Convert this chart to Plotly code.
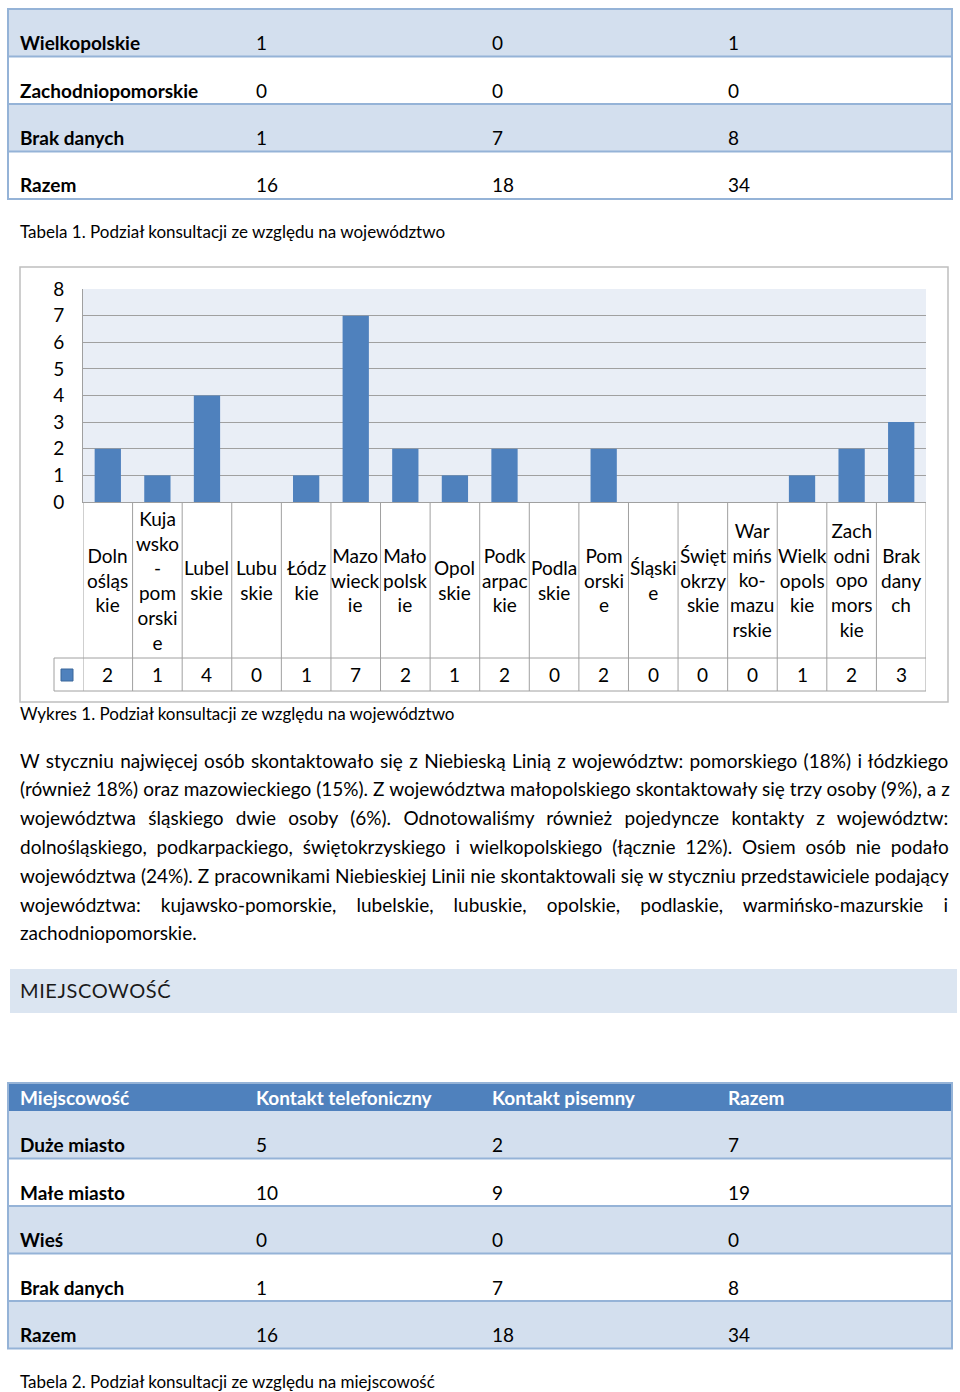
import plotly.graph_objects as go

# ---------------- data ----------------
t1_rows = ["Wielkopolskie", "Zachodniopomorskie", "Brak danych", "Razem"]
t1_tel = [1, 0, 1, 16]
t1_pis = [0, 0, 7, 18]
t1_raz = [1, 0, 8, 34]

regions = ["Doln<br>ośląs<br>kie", "Kuja<br>wsko<br>-<br>pom<br>orski<br>e", "Lubel<br>skie", "Lubu<br>skie",
           "Łódz<br>kie", "Mazo<br>wieck<br>ie", "Mało<br>polsk<br>ie", "Opol<br>skie", "Podk<br>arpac<br>kie",
           "Podla<br>skie", "Pom<br>orski<br>e", "Śląski<br>e", "Święt<br>okrzy<br>skie",
           "War<br>mińs<br>ko-<br>mazu<br>rskie", "Wielk<br>opols<br>kie", "Zach<br>odni<br>opo<br>mors<br>kie",
           "Brak<br>dany<br>ch"]
counts = [2, 1, 4, 0, 1, 7, 2, 1, 2, 0, 2, 0, 0, 0, 1, 2, 3]
y_ticks = [0, 1, 2, 3, 4, 5, 6, 7, 8]

t2_header = ["Miejscowość", "Kontakt telefoniczny", "Kontakt pisemny", "Razem"]
t2_rows = ["Duże miasto", "Małe miasto", "Wieś", "Brak danych", "Razem"]
t2_tel = [5, 10, 0, 1, 16]
t2_pis = [2, 9, 0, 7, 18]
t2_raz = [7, 19, 0, 8, 34]

caption1 = "Tabela 1. Podział konsultacji ze względu na województwo"
caption_chart = "Wykres 1. Podział konsultacji ze względu na województwo"
caption2 = "Tabela 2. Podział konsultacji ze względu na miejscowość"
heading = "MIEJSCOWOŚĆ"
paragraph = [
    "W styczniu najwięcej osób skontaktowało się z Niebieską Linią z województw: pomorskiego (18%) i łódzkiego",
    "(również 18%) oraz mazowieckiego (15%). Z województwa małopolskiego skontaktowały się trzy osoby (9%), a z",
    "województwa śląskiego dwie osoby (6%). Odnotowaliśmy również pojedyncze kontakty z województw:",
    "dolnośląskiego, podkarpackiego, świętokrzyskiego i wielkopolskiego (łącznie 12%). Osiem osób nie podało",
    "województwa (24%). Z pracownikami Niebieskiej Linii nie skontaktowali się w styczniu przedstawiciele podający",
    "województwa: kujawsko-pomorskie, lubelskie, lubuskie, opolskie, podlaskie, warmińsko-mazurskie i",
    "zachodniopomorskie.",
]
# extra word spacing (px) per line to imitate the justified paragraph
word_spacing = [1.5, 0.15, 7.5, 5.0, 0.15, 15.2, 0]

# ---------------- layout helpers ----------------
W, H = 960, 1392
FONT = "Lato"
BLUE = "#4F81BD"
LIGHT = "#D3DFEE"
BORDER = "#95B3D7"
TS = 19  # body text size


def X(p):
    return p / W


def Y(p):
    return 1 - p / H


shapes = []
annotations = []


def rect(x0, y0, x1, y1, fill=None, line=None, lw=1):
    shapes.append(dict(type="rect", xref="paper", yref="paper", x0=X(x0), x1=X(x1), y0=Y(y0), y1=Y(y1),
                       fillcolor=fill if fill else "rgba(0,0,0,0)",
                       line=dict(color=line if line else "rgba(0,0,0,0)", width=lw if line else 0),
                       layer="below"))


def hline(x0, x1, y, color, lw=1, layer="above"):
    shapes.append(dict(type="line", xref="paper", yref="paper", x0=X(x0), x1=X(x1), y0=Y(y), y1=Y(y),
                       line=dict(color=color, width=lw), layer=layer))


def vline(x, y0, y1, color, lw=1, layer="above"):
    shapes.append(dict(type="line", xref="paper", yref="paper", x0=X(x), x1=X(x), y0=Y(y0), y1=Y(y1),
                       line=dict(color=color, width=lw), layer=layer))


def text(x, y, s, size=TS, color="#000000", xanchor="left", weight=None):
    f = dict(family=FONT, size=size, color=color)
    if weight:
        f["weight"] = weight
    annotations.append(dict(xref="paper", yref="paper", x=X(x), y=Y(y), text=s, showarrow=False,
                            xanchor=xanchor, yanchor="middle", font=f, borderpad=0, borderwidth=0))


def table(top, row_h, labels, cols, header=None, header_h=28, left=8, right=952, col_w=236, pad=12):
    y = top
    if header:
        rect(left, y, right, y + header_h, fill=BLUE)
        for j, h in enumerate(header):
            text(left + pad + j * col_w, y + header_h / 2, "<b>" + h + "</b>", color="#FFFFFF")
        y += header_h
    for i, lab in enumerate(labels):
        fill = LIGHT if i % 2 == 0 else "#FFFFFF"
        rect(left, y, right, y + row_h, fill=fill)
        ty = y + row_h - 14
        text(left + pad, ty, "<b>" + lab + "</b>")
        for j, col in enumerate(cols):
            text(left + pad + (j + 1) * col_w, ty, str(col[i]))
        y += row_h
        if i < len(labels) - 1:
            hline(left, right, y, BORDER, 2)
    shapes.append(dict(type="rect", xref="paper", yref="paper", x0=X(left), x1=X(right), y0=Y(top), y1=Y(y),
                       line=dict(color=BORDER, width=2), fillcolor="rgba(0,0,0,0)", layer="above"))
    return y


# ---------------- table 1 ----------------
table(9, 47.5, t1_rows, [t1_tel, t1_pis, t1_raz])
text(20, 232, caption1, size=17)

# ---------------- chart ----------------
fig = go.Figure()
fig.add_bar(x=regions, y=counts, marker=dict(color=BLUE, line=dict(width=0)), hoverinfo="y")

# chart frame
rect(20, 267, 948, 702, line="#BFBFBF", lw=1.5)

plot_l, plot_r, plot_t, plot_b = 83, 926, 289, 502
lab_b, val_b, key_l = 658, 691, 54
GRID = "#A0A0A0"
# data table under the chart
hline(key_l, plot_r, lab_b, GRID)
hline(key_l, plot_r, val_b, GRID)
vline(key_l, lab_b, val_b, GRID)
for i in range(len(regions) + 1):
    shapes.append(dict(type="line", xref="x", yref="paper", x0=i - 0.5, x1=i - 0.5, y0=Y(plot_b), y1=Y(val_b),
                       line=dict(color=GRID, width=1)))
shapes.append(dict(type="rect", xref="paper", yref="paper", x0=X(61), x1=X(73), y0=Y(681), y1=Y(669),
                   fillcolor=BLUE, line=dict(color="#3B679A", width=1)))
for r, v in zip(regions, counts):
    annotations.append(dict(xref="x", yref="paper", x=r, y=Y((plot_b + lab_b) / 2), text=r, showarrow=False,
                            xanchor="center", yanchor="middle", align="center",
                            font=dict(family=FONT, size=19, color="#000000")))
    annotations.append(dict(xref="x", yref="paper", x=r, y=Y((lab_b + val_b) / 2), text=str(v), showarrow=False,
                            xanchor="center", yanchor="middle", font=dict(family=FONT, size=19, color="#000000")))
text(20, 713, caption_chart, size=17)

# ---------------- paragraph ----------------
for k, (line, ws) in enumerate(zip(paragraph, word_spacing)):
    text(20, 760 + k * 28.8, '<span style="word-spacing:%.2fpx">%s</span>' % (ws, line), size=TS)

# ---------------- heading ----------------
rect(10, 969, 957, 1013, fill="#DBE5F1")
text(20, 990, '<span style="letter-spacing:0.6px">%s</span>' % heading, size=20, color="#1A1A1A")

# ---------------- table 2 ----------------
table(1083, 47.5, t2_rows, [t2_tel, t2_pis, t2_raz], header=t2_header, header_h=28)
text(20, 1381, caption2, size=17)

fig.update_layout(
    width=W, height=H, margin=dict(l=0, r=0, t=0, b=0, pad=0, autoexpand=False),
    paper_bgcolor="#FFFFFF", plot_bgcolor="#E9EEF6",
    showlegend=False, bargap=0.47,
    font=dict(family=FONT, size=19, color="#000000"),
    xaxis=dict(domain=[X(plot_l), X(plot_r)], showticklabels=False, showgrid=False, showline=True,
               linecolor=GRID, linewidth=1, range=[-0.5, len(regions) - 0.5], fixedrange=True,
               automargin=False),
    yaxis=dict(domain=[Y(plot_b), Y(plot_t)], range=[0, 8], tickvals=y_ticks, showgrid=True, gridcolor=GRID,
               gridwidth=1, showline=True, linecolor=GRID, linewidth=1, zeroline=False,
               tickfont=dict(family=FONT, size=19, color="#000000"), ticks="", ticklabelstandoff=14,
               fixedrange=True, automargin=False),
    shapes=shapes, annotations=annotations,
)

fig.write_html("out.html", config={"displayModeBar": False},
               post_script="document.body.style.margin='0';document.body.style.overflow='hidden';")
